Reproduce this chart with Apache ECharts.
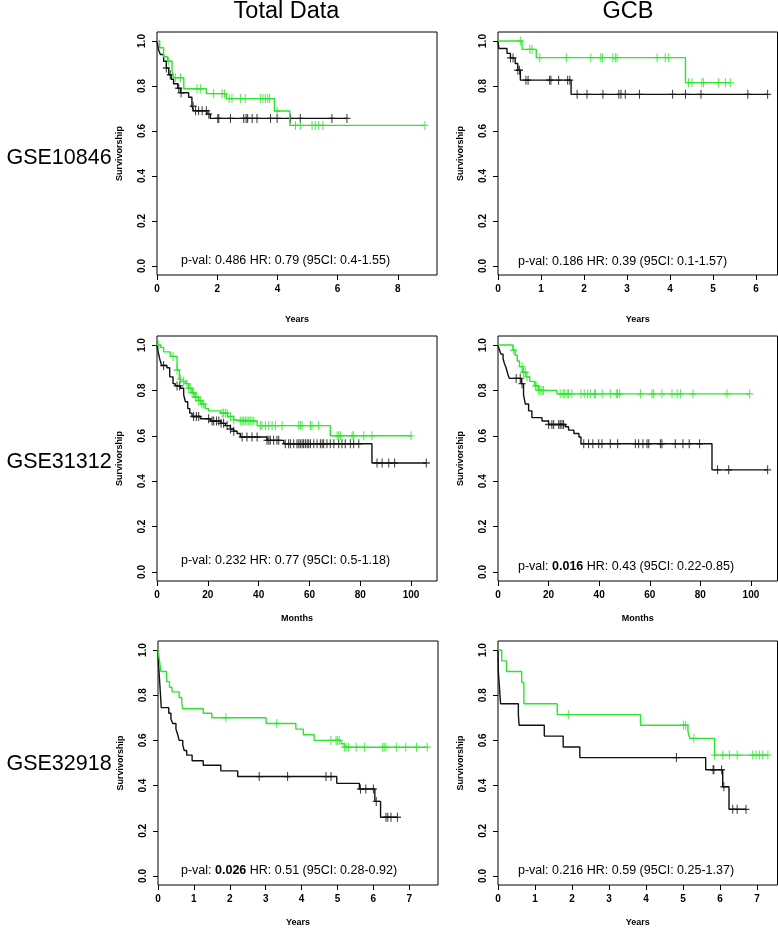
<!DOCTYPE html>
<html>
<head>
<meta charset="utf-8">
<script src="https://cdn.jsdelivr.net/npm/echarts@6/dist/echarts.min.js"></script>
<style>
  html, body { margin: 0; padding: 0; background: #fff; }
  #chart { width: 778px; height: 930px; }
</style>
</head>
<body>
<div id="chart"></div>
<script>
/* Kaplan-Meier survival panels: rows = datasets, columns = Total Data / GCB */

var yTicks = [0, 0.2, 0.4, 0.6, 0.8, 1.0];
var colTitles = ["Total Data", "GCB"];
var rowTitles = ["GSE10846", "GSE31312", "GSE32918"];

/* ---- GSE10846, total ---- */
var p1GreenT = [0.09, 0.22, 0.35, 0.50, 0.55, 0.89, 1.64, 2.30, 3.90, 4.41];
var p1GreenS = [0.97, 0.93, 0.91, 0.866, 0.837, 0.788, 0.766, 0.744, 0.689, 0.625];
var p1GreenC = [0.39, 0.61, 0.78, 1.33, 1.44, 1.88, 2.16, 2.24, 2.40, 2.49, 2.77, 2.93, 3.43, 3.52, 3.60, 3.68, 3.74, 3.99, 4.60, 4.76, 5.15, 5.26, 5.37, 5.51, 8.9];
var p1BlackT = [0.055, 0.11, 0.22, 0.31, 0.39, 0.47, 0.55, 0.69, 0.78, 1.05, 1.16, 1.22, 1.66, 1.77];
var p1BlackS = [0.96, 0.94, 0.91, 0.88, 0.85, 0.83, 0.81, 0.79, 0.77, 0.75, 0.71, 0.69, 0.675, 0.656];
var p1BlackC = [0.31, 0.44, 0.72, 0.80, 1.20, 1.28, 1.38, 1.50, 1.64, 1.72, 2.02, 2.05, 2.44, 2.88, 2.96, 3.01, 3.16, 3.32, 3.77, 3.99, 4.43, 4.76, 5.81, 6.31];
var p1XTicks = [0, 2, 4, 6, 8];

/* ---- GSE10846, GCB ---- */
var p2GreenT = [0.56, 0.89, 4.36];
var p2GreenS = [0.963, 0.926, 0.815];
var p2GreenC = [0.52, 0.74, 0.79, 0.97, 1.59, 2.16, 2.39, 2.43, 2.67, 2.73, 2.77, 3.70, 3.89, 3.97, 4.43, 4.51, 4.74, 4.78, 5.13, 5.29, 5.40];
var p2BlackT = [0.02, 0.21, 0.29, 0.40, 0.46, 0.52, 1.70];
var p2BlackS = [0.967, 0.945, 0.925, 0.90, 0.87, 0.826, 0.763];
var p2BlackC = [0.29, 0.35, 0.46, 0.50, 0.65, 0.70, 1.20, 1.23, 1.41, 1.62, 1.67, 1.84, 2.07, 2.44, 2.81, 2.86, 2.96, 3.29, 4.06, 4.36, 4.72, 5.81, 6.27];
var p2XTicks = [0, 1, 2, 3, 4, 5, 6];

/* ---- GSE31312, total (months) ---- */
var p3GreenT = [1.3, 2.6, 5.2, 7.9, 8.8, 9.4, 11.2, 12.5, 13.8, 15.0, 16.4, 17.7, 19.0, 20.3, 25.0, 27.8, 30.2, 32.0, 39.4, 68.2];
var p3GreenS = [0.99, 0.97, 0.95, 0.89, 0.85, 0.84, 0.83, 0.81, 0.79, 0.77, 0.755, 0.74, 0.72, 0.71, 0.70, 0.685, 0.67, 0.665, 0.645, 0.60];
var p3GreenC = [0.7, 6.3, 7.9, 9.2, 10.5, 11.8, 12.5, 13.1, 13.8, 14.4, 15.1, 15.7, 16.4, 17.1, 17.7, 18.4, 25.6, 26.2, 26.9, 27.6, 28.9, 30.2, 32.8, 33.5, 34.1, 34.8, 35.4, 36.1, 36.7, 37.4, 38.1, 40.7, 41.3, 42.7, 44.0, 45.3, 46.6, 49.2, 55.8, 56.4, 57.1, 60.4, 61.0, 63.6, 70.9, 71.5, 72.2, 76.8, 77.4, 81.4, 84.6, 100];
var p3BlackT = [0.26, 0.66, 1.05, 1.57, 1.97, 3.9, 5.0, 6.3, 7.2, 9.2, 10.5, 11.2, 12.1, 12.9, 13.8, 17.1, 21.0, 25.2, 26.9, 28.9, 30.2, 31.5, 32.8, 43.3, 49.9, 84.6];
var p3BlackS = [0.98, 0.96, 0.94, 0.92, 0.91, 0.90, 0.86, 0.83, 0.82, 0.81, 0.78, 0.75, 0.72, 0.70, 0.685, 0.675, 0.665, 0.655, 0.645, 0.63, 0.62, 0.61, 0.595, 0.58, 0.565, 0.48];
var p3BlackC = [2.6, 7.9, 8.9, 14.4, 15.5, 16.4, 20.3, 21.7, 22.3, 23.4, 24.3, 25.2, 26.2, 27.6, 28.9, 30.2, 33.5, 35.4, 37.4, 39.4, 43.3, 44.0, 44.6, 45.9, 47.2, 47.9, 50.5, 51.8, 52.5, 53.8, 55.1, 55.8, 56.4, 57.1, 57.7, 58.4, 59.1, 59.7, 60.4, 61.7, 63.0, 64.3, 65.0, 65.6, 66.9, 68.2, 69.6, 71.5, 72.8, 74.1, 76.1, 77.4, 79.4, 86.6, 88.6, 91.2, 93.5, 106];
var p3XTicks = [0, 20, 40, 60, 80, 100];

/* ---- GSE31312, GCB (months) ---- */
var p4GreenT = [5.9, 6.8, 7.6, 8.5, 9.8, 11.0, 12.5, 14.5, 16.0, 23.3];
var p4GreenS = [0.977, 0.955, 0.93, 0.905, 0.88, 0.86, 0.84, 0.82, 0.80, 0.785];
var p4GreenC = [6.2, 9.5, 10.1, 10.8, 11.5, 14.8, 15.4, 16.1, 16.7, 17.4, 18.0, 24.6, 25.7, 26.2, 27.3, 27.9, 29.2, 32.8, 34.1, 35.4, 36.5, 38.1, 38.5, 41.2, 44.4, 46.8, 47.3, 48.1, 56.3, 60.9, 61.5, 64.8, 68.8, 70.8, 72.1, 77.1, 90.5, 99.5];
var p4BlackT = [0.5, 1.2, 2.0, 2.5, 3.2, 3.8, 4.5, 9.2, 10.1, 10.8, 12.1, 13.4, 17.4, 20.0, 26.6, 27.9, 30.0, 32.0, 32.8, 84.6];
var p4BlackS = [0.98, 0.96, 0.94, 0.92, 0.90, 0.875, 0.853, 0.83, 0.78, 0.74, 0.71, 0.68, 0.665, 0.65, 0.64, 0.625, 0.61, 0.595, 0.565, 0.45];
var p4BlackC = [7.2, 8.8, 9.5, 20.0, 21.3, 22.0, 24.0, 24.6, 25.3, 25.9, 33.9, 35.8, 37.5, 39.8, 41.1, 44.4, 47.3, 54.3, 55.6, 57.3, 58.9, 59.6, 64.2, 64.8, 70.1, 73.1, 75.6, 79.7, 86.8, 91.2, 106.6];
var p4XTicks = [0, 20, 40, 60, 80, 100];

/* ---- GSE32918, total ---- */
var p5GreenT = [0.02, 0.04, 0.06, 0.08, 0.24, 0.32, 0.39, 0.59, 0.66, 0.69, 1.26, 1.50, 3.01, 3.84, 4.05, 4.35, 5.10, 5.19];
var p5GreenS = [0.975, 0.955, 0.93, 0.905, 0.86, 0.835, 0.815, 0.79, 0.765, 0.74, 0.72, 0.70, 0.675, 0.65, 0.625, 0.60, 0.585, 0.57];
var p5GreenC = [1.89, 3.31, 4.82, 4.96, 5.00, 5.05, 5.19, 5.24, 5.31, 5.52, 5.75, 6.26, 6.30, 6.35, 6.64, 6.9, 7.2, 7.5];
var p5BlackT = [0.01, 0.03, 0.05, 0.07, 0.09, 0.30, 0.36, 0.41, 0.50, 0.55, 0.59, 0.69, 0.73, 0.80, 0.95, 1.26, 1.75, 2.22, 4.98, 5.61, 6.04, 6.20];
var p5BlackS = [0.95, 0.90, 0.85, 0.80, 0.745, 0.72, 0.695, 0.675, 0.65, 0.625, 0.60, 0.58, 0.555, 0.535, 0.51, 0.49, 0.465, 0.44, 0.41, 0.385, 0.33, 0.26];
var p5BlackC = [2.82, 3.61, 4.68, 4.82, 5.64, 5.79, 6.00, 6.08, 6.35, 6.40, 6.49, 6.67];
var p5XTicks = [0, 1, 2, 3, 4, 5, 6, 7];

/* ---- GSE32918, GCB ---- */
var p6GreenT = [0.10, 0.23, 0.64, 0.70, 1.60, 3.85, 5.13, 5.18, 5.85];
var p6GreenS = [0.952, 0.905, 0.857, 0.762, 0.714, 0.667, 0.64, 0.609, 0.535];
var p6GreenC = [1.90, 5.01, 5.07, 5.29, 5.85, 6.07, 6.25, 6.46, 6.88, 6.97, 7.06, 7.15, 7.29];
var p6BlackT = [0.01, 0.03, 0.07, 0.55, 0.57, 1.25, 1.76, 2.21, 5.61, 6.07, 6.24];
var p6BlackS = [0.905, 0.857, 0.762, 0.714, 0.667, 0.619, 0.571, 0.524, 0.47, 0.395, 0.295];
var p6BlackC = [4.82, 5.81, 5.83, 6.04, 6.10, 6.34, 6.46, 6.70];
var p6XTicks = [0, 1, 2, 3, 4, 5, 6, 7];

var pvalTexts = [
    ["0.486", "HR: 0.79 (95CI: 0.4-1.55)", false],
    ["0.186", "HR: 0.39 (95CI: 0.1-1.57)", false],
    ["0.232", "HR: 0.77 (95CI: 0.5-1.18)", false],
    ["0.016", "HR: 0.43 (95CI: 0.22-0.85)", true],
    ["0.026", "HR: 0.51 (95CI: 0.28-0.92)", true],
    ["0.216", "HR: 0.59 (95CI: 0.25-1.37)", false]
];

var FONT = "'Liberation Sans', Arial, Helvetica, sans-serif";
var GREEN = "#2ee52e";
var BLACK = "#111111";
var PLUS = "path://M5,0L5,10M0,5L10,5";

/* panel layout: grid box, x range, text positions */
var panels = [
    { gT: p1GreenT, gS: p1GreenS, gC: p1GreenC, bT: p1BlackT, bS: p1BlackS, bC: p1BlackC, ticks: p1XTicks,
      xmax: 9.3, xname: "Years", left: 157, top: 32, width: 280, height: 243, py: 261 },
    { gT: p2GreenT, gS: p2GreenS, gC: p2GreenC, bT: p2BlackT, bS: p2BlackS, bC: p2BlackC, ticks: p2XTicks,
      xmax: 6.5, xname: "Years", left: 498, top: 32, width: 279.5, height: 243, py: 262 },
    { gT: p3GreenT, gS: p3GreenS, gC: p3GreenC, bT: p3BlackT, bS: p3BlackS, bC: p3BlackC, ticks: p3XTicks,
      xmax: 110.2, xname: "Months", left: 157, top: 336, width: 280, height: 245, py: 561 },
    { gT: p4GreenT, gS: p4GreenS, gC: p4GreenC, bT: p4BlackT, bS: p4BlackS, bC: p4BlackC, ticks: p4XTicks,
      xmax: 110.5, xname: "Months", left: 498, top: 336, width: 279.5, height: 245, py: 567 },
    { gT: p5GreenT, gS: p5GreenS, gC: p5GreenC, bT: p5BlackT, bS: p5BlackS, bC: p5BlackC, ticks: p5XTicks,
      xmax: 7.8, xname: "Years", left: 158, top: 641, width: 280, height: 244, py: 871 },
    { gT: p6GreenT, gS: p6GreenS, gC: p6GreenC, bT: p6BlackT, bS: p6BlackS, bC: p6BlackC, ticks: p6XTicks,
      xmax: 7.55, xname: "Years", left: 498, top: 641, width: 279.5, height: 244, py: 871 }
];

/* survival value of a step curve at time t */
function survAt(times, surv, t) {
    var s = 1;
    for (var i = 0; i < times.length; i++) {
        if (times[i] <= t) { s = surv[i]; }
    }
    return s;
}

function stepData(times, surv, cens) {
    var last = surv[surv.length - 1];
    var end = Math.max(times[times.length - 1], cens.length ? cens[cens.length - 1] : 0);
    var d = [[0, 1]];
    for (var i = 0; i < times.length; i++) { d.push([times[i], surv[i]]); }
    d.push([end, last]);
    return d;
}

function censData(times, surv, cens) {
    return cens.map(function (t) { return [t, survAt(times, surv, t)]; });
}

var grids = [], xAxes = [], yAxes = [], series = [], graphics = [];

panels.forEach(function (p, i) {
    grids.push({
        left: p.left, top: p.top, width: p.width, height: p.height,
        show: true, borderColor: "#000", borderWidth: 1, backgroundColor: "transparent"
    });
    xAxes.push({
        gridIndex: i, type: "value", min: 0, max: p.xmax,
        axisLine: { show: false, onZero: false },
        splitLine: { show: false },
        axisTick: { show: true, length: 5, lineStyle: { color: "#000" }, customValues: p.ticks },
        axisLabel: { customValues: p.ticks, fontSize: 10, fontWeight: "bold", color: "#000", fontFamily: FONT, margin: 9 },
        name: p.xname, nameLocation: "middle", nameGap: i < 2 ? 40 : 33,
        nameTextStyle: { fontSize: 9, fontWeight: "bold", color: "#000", fontFamily: FONT }
    });
    yAxes.push({
        gridIndex: i, type: "value", min: -0.04, max: 1.04,
        axisLine: { show: false, onZero: false },
        splitLine: { show: false },
        axisTick: { show: true, length: 5, lineStyle: { color: "#000" }, customValues: yTicks },
        axisLabel: {
            customValues: yTicks, rotate: 90, fontSize: 10, fontWeight: "bold", color: "#000", fontFamily: FONT, margin: 10,
            formatter: function (v) { return v.toFixed(1); }
        },
        name: "Survivorship", nameLocation: "middle", nameGap: 33,
        nameTextStyle: { fontSize: 9, fontWeight: "bold", color: "#000", fontFamily: FONT }
    });

    [[p.bT, p.bS, p.bC, BLACK], [p.gT, p.gS, p.gC, GREEN]].forEach(function (g) {
        series.push({
            type: "line", xAxisIndex: i, yAxisIndex: i, step: "end",
            data: stepData(g[0], g[1], g[2]),
            showSymbol: false, symbol: "none",
            lineStyle: { color: g[3], width: 1.4 },
            silent: true
        });
        series.push({
            type: "scatter", xAxisIndex: i, yAxisIndex: i,
            data: censData(g[0], g[1], g[2]),
            symbol: PLUS, symbolSize: [7, 9],
            itemStyle: { color: "rgba(0,0,0,0)", borderColor: g[3], borderWidth: 1.2 },
            silent: true
        });
    });

    var pv = pvalTexts[i];
    graphics.push({
        type: "text", x: i % 2 === 0 ? 181 : 518, y: p.py,
        style: {
            text: "{n|p-val: }{" + (pv[2] ? "b" : "n") + "|" + pv[0] + "}{n| " + pv[1] + "}",
            rich: {
                n: { fontSize: 12.5, fontFamily: FONT, fill: "#000" },
                b: { fontSize: 12.5, fontFamily: FONT, fontWeight: "bold", fill: "#000" }
            },
            align: "left", verticalAlign: "middle"
        }
    });
});

graphics.push(
    { type: "text", x: 286.5, y: 12, style: { text: colTitles[0], fontSize: 23.5, fontFamily: FONT, fill: "#000", align: "center", verticalAlign: "middle" } },
    { type: "text", x: 628, y: 12, style: { text: colTitles[1], fontSize: 23.5, fontFamily: FONT, fill: "#000", align: "center", verticalAlign: "middle" } },
    { type: "text", x: 59, y: 158, style: { text: rowTitles[0], fontSize: 21.5, fontFamily: FONT, fill: "#000", align: "center", verticalAlign: "middle" } },
    { type: "text", x: 59, y: 462, style: { text: rowTitles[1], fontSize: 21.5, fontFamily: FONT, fill: "#000", align: "center", verticalAlign: "middle" } },
    { type: "text", x: 59, y: 764, style: { text: rowTitles[2], fontSize: 21.5, fontFamily: FONT, fill: "#000", align: "center", verticalAlign: "middle" } }
);

var chart = echarts.init(document.getElementById("chart"), null, { renderer: "canvas" });
chart.setOption({
    animation: false,
    backgroundColor: "#fff",
    grid: grids,
    xAxis: xAxes,
    yAxis: yAxes,
    series: series,
    graphic: graphics
});
</script>
</body>
</html>
